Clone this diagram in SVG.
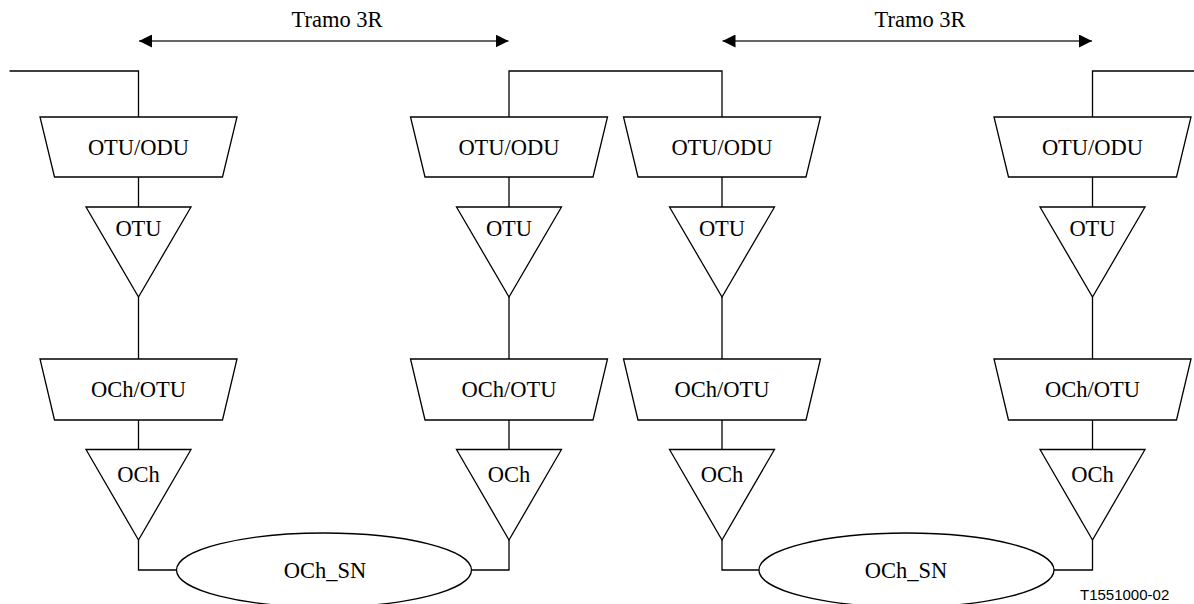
<svg xmlns="http://www.w3.org/2000/svg" width="1194" height="604" viewBox="0 0 1194 604">
<defs>
<style>
.s{fill:#fff;stroke:#000;stroke-width:1.3}
.c{fill:none;stroke:#000;stroke-width:1.3}
.a{fill:none;stroke:#333;stroke-width:1.6}
.t{font-family:"Liberation Serif","Times New Roman",serif;font-size:22.5px;fill:#000;text-anchor:middle}
.f{font-family:"Liberation Sans",Arial,sans-serif;font-size:15px;fill:#000}
</style>
<marker id="ah" viewBox="0 0 13 13" refX="13" refY="6.5" markerWidth="13" markerHeight="13" markerUnits="userSpaceOnUse" orient="auto-start-reverse">
<path d="M0,0 L13,6.5 L0,13 Z" fill="#000"/>
</marker>
</defs>
<rect width="1194" height="604" fill="#fff"/>
<g id="connectors">
<line class="a" x1="139" y1="41" x2="508.5" y2="41" marker-start="url(#ah)" marker-end="url(#ah)"/>
<line class="a" x1="722.5" y1="41" x2="1092" y2="41" marker-start="url(#ah)" marker-end="url(#ah)"/>
<polyline class="c" points="9.5,71 138.5,71 138.5,117"/>
<polyline class="c" points="509,117 509,71 722,71 722,117"/>
<polyline class="c" points="1092.5,117 1092.5,71 1194,71"/>
<line class="c" x1="138.5" y1="177" x2="138.5" y2="207"/>
<line class="c" x1="509" y1="177" x2="509" y2="207"/>
<line class="c" x1="722" y1="177" x2="722" y2="207"/>
<line class="c" x1="1092.5" y1="177" x2="1092.5" y2="207"/>
<line class="c" x1="138.5" y1="297" x2="138.5" y2="359"/>
<line class="c" x1="509" y1="297" x2="509" y2="359"/>
<line class="c" x1="722" y1="297" x2="722" y2="359"/>
<line class="c" x1="1092.5" y1="297" x2="1092.5" y2="359"/>
<line class="c" x1="138.5" y1="420" x2="138.5" y2="449.5"/>
<line class="c" x1="509" y1="420" x2="509" y2="449.5"/>
<line class="c" x1="722" y1="420" x2="722" y2="449.5"/>
<line class="c" x1="1092.5" y1="420" x2="1092.5" y2="449.5"/>
<polyline class="c" points="138.5,540 138.5,570 176.5,570"/>
<polyline class="c" points="509,540 509,570 471.5,570"/>
<polyline class="c" points="722,540 722,570 759,570"/>
<polyline class="c" points="1092.5,540 1092.5,570 1054,570"/>
</g>
<g id="labels">
<text class="t" x="337" y="27">Tramo 3R</text>
<text class="t" x="920" y="27">Tramo 3R</text>
<text class="f" x="1080" y="600">T1551000-02</text>
</g>
<g id="col1-otuodu"><polygon class="s" points="40,117 237,117 222.5,177 54.5,177"/><text class="t" x="138.5" y="155">OTU/ODU</text></g>
<g id="col2-otuodu"><polygon class="s" points="410.5,117 607.5,117 593,177 425,177"/><text class="t" x="509" y="155">OTU/ODU</text></g>
<g id="col3-otuodu"><polygon class="s" points="623.5,117 820.5,117 806,177 638,177"/><text class="t" x="722" y="155">OTU/ODU</text></g>
<g id="col4-otuodu"><polygon class="s" points="994,117 1191,117 1176.5,177 1008.5,177"/><text class="t" x="1092.5" y="155">OTU/ODU</text></g>
<g id="col1-otu"><polygon class="s" points="86,207 191,207 138.5,297"/><text class="t" x="138.5" y="236">OTU</text></g>
<g id="col2-otu"><polygon class="s" points="456.5,207 561.5,207 509,297"/><text class="t" x="509" y="236">OTU</text></g>
<g id="col3-otu"><polygon class="s" points="669.5,207 774.5,207 722,297"/><text class="t" x="722" y="236">OTU</text></g>
<g id="col4-otu"><polygon class="s" points="1040,207 1145,207 1092.5,297"/><text class="t" x="1092.5" y="236">OTU</text></g>
<g id="col1-ochotu"><polygon class="s" points="40,359 237,359 222.5,420 54.5,420"/><text class="t" x="138.5" y="397">OCh/OTU</text></g>
<g id="col2-ochotu"><polygon class="s" points="410.5,359 607.5,359 593,420 425,420"/><text class="t" x="509" y="397">OCh/OTU</text></g>
<g id="col3-ochotu"><polygon class="s" points="623.5,359 820.5,359 806,420 638,420"/><text class="t" x="722" y="397">OCh/OTU</text></g>
<g id="col4-ochotu"><polygon class="s" points="994,359 1191,359 1176.5,420 1008.5,420"/><text class="t" x="1092.5" y="397">OCh/OTU</text></g>
<g id="col1-och"><polygon class="s" points="86,449.5 191,449.5 138.5,540"/><text class="t" x="138.5" y="482">OCh</text></g>
<g id="col2-och"><polygon class="s" points="456.5,449.5 561.5,449.5 509,540"/><text class="t" x="509" y="482">OCh</text></g>
<g id="col3-och"><polygon class="s" points="669.5,449.5 774.5,449.5 722,540"/><text class="t" x="722" y="482">OCh</text></g>
<g id="col4-och"><polygon class="s" points="1040,449.5 1145,449.5 1092.5,540"/><text class="t" x="1092.5" y="482">OCh</text></g>
<g id="sn1"><ellipse class="s" cx="324" cy="570" rx="147.5" ry="37"/><text class="t" x="325" y="578">OCh_SN</text></g>
<g id="sn2"><ellipse class="s" cx="906.5" cy="570" rx="147.5" ry="37"/><text class="t" x="906" y="578">OCh_SN</text></g>
</svg>
